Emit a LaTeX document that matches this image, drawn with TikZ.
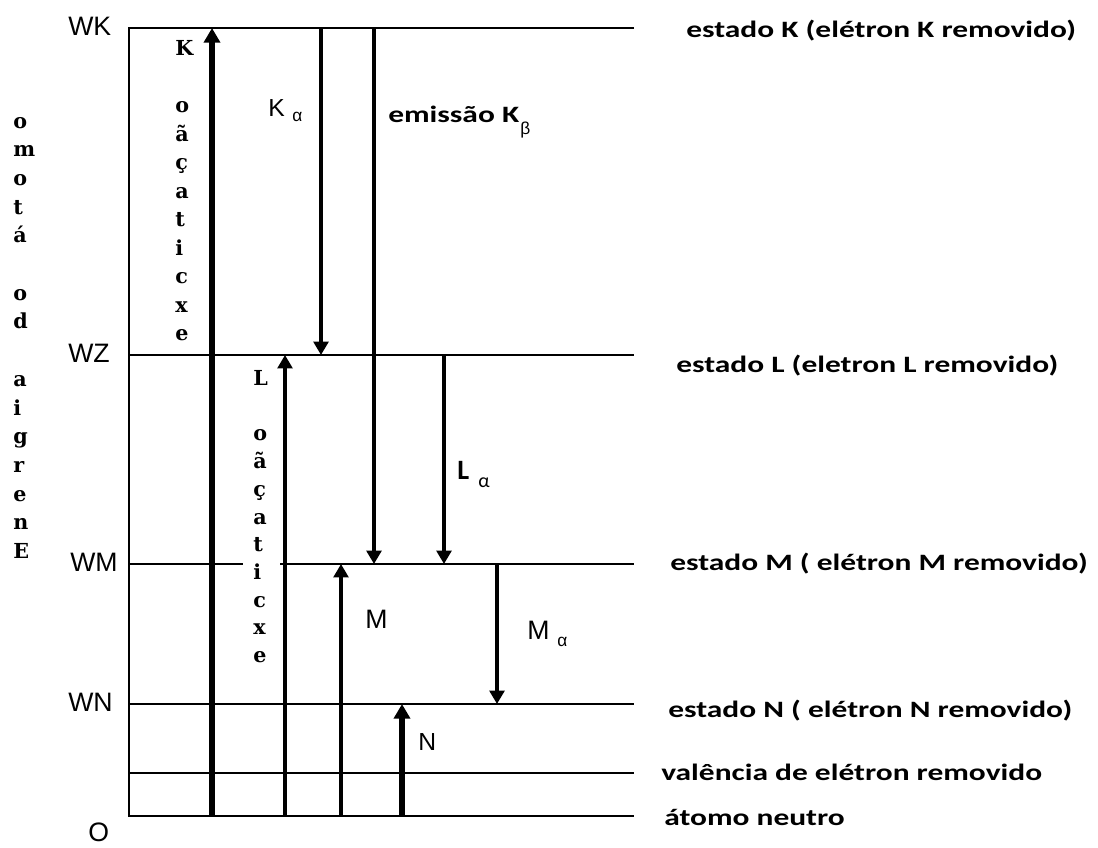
\documentclass[tikz,border=0pt]{standalone}
\usepackage{fontspec}
\usepackage{graphicx}
\usetikzlibrary{arrows.meta}
\newfontfamily\arialf{Liberation Sans}
\newfontfamily\calf{Carlito}
\newfontfamily\serifb{DejaVu Serif}
\newcommand\widelab[1]{\scalebox{1.34}[1]{#1}}
\tikzset{
  level/.style={line width=1.2pt},
  thinarrow/.style={line width=2.6pt, -{Triangle[width=11pt,length=10pt]}},
  thickarrow/.style={line width=4pt, -{Triangle[width=12pt,length=11pt]}},
  vlet/.style={anchor=base west, inner sep=0pt, font=\serifb\bfseries\fontsize{15.5}{15.5}\selectfont},
  lab/.style={anchor=base west, inner sep=0pt, font=\arialf\fontsize{18.5}{18.5}\selectfont},
  biglab/.style={anchor=base west, inner sep=0pt, font=\arialf\fontsize{20}{20}\selectfont},
  greek/.style={anchor=base west, inner sep=0pt, font=\arialf\fontsize{13}{13}\selectfont},
  rlab/.style={anchor=base west, inner sep=0pt, font=\calf\bfseries\fontsize{17.6}{17.6}\selectfont},
}
\begin{document}
\begin{tikzpicture}[x=0.75pt,y=-0.75pt]
\path[fill=white, use as bounding box] (0,0) rectangle (1098,847);

% levels
\coordinate (lvK) at (129,28);
\coordinate (lvL) at (129,355);
\coordinate (lvM) at (129,564);
\coordinate (lvN) at (129,704);
\coordinate (lvV) at (129,773);
\coordinate (lvO) at (129,816);
\draw[level] (634,28) -- (lvK) -- (lvO) -- (634,816);
\draw[level] (lvL) -- (634,355);
\draw[level] (lvM) -- (243,564);
\draw[level] (280,564) -- (634,564);
\draw[level] (lvN) -- (634,704);
\draw[level] (lvV) -- (634,773);

% arrow end points
\coordinate (kx0) at (212,816); \coordinate (kx1) at (212,28);
\coordinate (lx0) at (285,816); \coordinate (lx1) at (285,355);
\coordinate (mx0) at (341,816); \coordinate (mx1) at (341,564);
\coordinate (nx0) at (402,816); \coordinate (nx1) at (402,704);
\coordinate (ka0) at (321,28);  \coordinate (ka1) at (321,355);
\coordinate (kb0) at (374,28);  \coordinate (kb1) at (374,564);
\coordinate (la0) at (444,355); \coordinate (la1) at (444,564);
\coordinate (ma0) at (497,564); \coordinate (ma1) at (497,704);

\draw[thickarrow] (kx0) -- (kx1);
\draw[thinarrow] (lx0) -- (lx1);
\draw[thinarrow] (mx0) -- (mx1);
\draw[thickarrow] (nx0) -- (nx1);
\draw[thinarrow] (ka0) -- (ka1);
\draw[thinarrow] (kb0) -- (kb1);
\draw[thinarrow] (la0) -- (la1);
\draw[thinarrow] (ma0) -- (ma1);

% vertical stacked texts
\foreach \c/\i in {o/0,m/1,o/2,t/3,á/4,o/6,d/7,a/9,i/10,g/11,r/12,e/13,n/14,E/15}
  \node[vlet] (en\i) at (13,{128+28.7*\i}) {\c};
\foreach \c/\i in {K/0,o/2,ã/3,ç/4,a/5,t/6,i/7,c/8,x/9,e/10}
  \node[vlet] (ek\i) at (175,{55.5+28.5*\i}) {\c};
\foreach \c/\i in {L/0,o/2,ã/3,ç/4,a/5,t/6,i/7,c/8,x/9,e/10}
  \node[vlet] (el\i) at (253,{385.5+27.7*\i}) {\c};

% level names
\node[biglab] (wk) at (68,35) {WK};
\node[biglab] (wz) at (68,362) {WZ};
\node[biglab] (wm) at (70,571) {WM};
\node[biglab] (wn) at (68,711) {WN};
\node[biglab] (o) at (88,841) {O};

% transition labels
\node[lab] (kaK) at (268,116) {K};
\node[greek] (kaA) at (292,121) {α};
\node[rlab] (em) at (388,122) {\widelab{emissão K}};
\node[greek] (emb) at (520,134) {β};
\node[rlab, font=\calf\bfseries\fontsize{21}{21}\selectfont] (laL) at (457,479) {L};
\node[greek, font=\calf\fontsize{15}{15}\selectfont] (laA) at (478,487) {α};
\node[biglab] (mm) at (365,628) {M};
\node[biglab] (maM) at (527,639) {M};
\node[greek] (maA) at (557,646) {α};
\node[lab] (nn) at (418,750) {N};

% right labels
\node[rlab] (sK) at (686,37) {\widelab{estado K (elétron K removido)}};
\node[rlab] (sL) at (676,372) {\widelab{estado L (eletron L removido)}};
\node[rlab] (sM) at (670,570) {\widelab{estado M ( elétron M removido)}};
\node[rlab] (sN) at (668,717) {\widelab{estado N ( elétron N removido)}};
\node[rlab] (sV) at (661,780) {\widelab{valência de elétron removido}};
\node[rlab] (sO) at (664,825) {\widelab{átomo neutro}};
\end{tikzpicture}
\end{document}
